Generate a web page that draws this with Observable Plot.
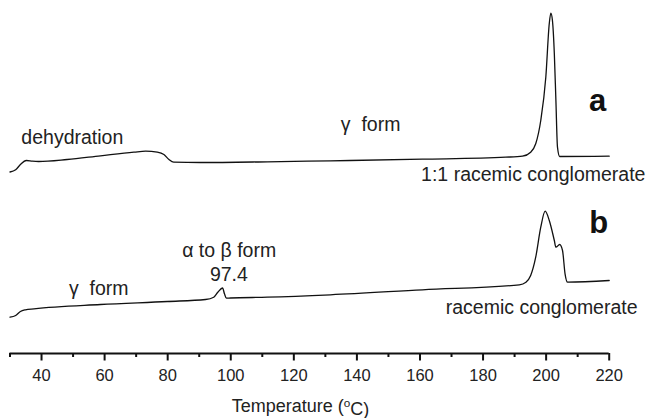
<!DOCTYPE html>
<html>
<head>
<meta charset="utf-8">
<script src="https://cdn.jsdelivr.net/npm/d3@7"></script>
<script src="https://cdn.jsdelivr.net/npm/@observablehq/plot@0.6"></script>
<style>
  html, body { margin: 0; padding: 0; background: #fff; }
  #chart { width: 652px; height: 418px; }
</style>
</head>
<body>
<div id="chart"></div>
<script>
// Curve a (1:1 racemic conglomerate) – temperature (°C) vs heat flow (a.u., offset)
const tempA = [30, 31.8, 33.3, 35.2, 37.1, 39.1, 48.1, 58.7, 69.3, 73.0, 76.7, 78.8, 80.4, 81.9, 90.4, 111.6, 131.6, 160.8, 187.2, 192.5, 195.1, 196.7, 198.3, 199.9, 201.0, 201.5, 202.0, 202.6, 203.1, 203.6, 204.3, 220];
const heatA = [181.5, 183.7, 189, 193, 192.3, 192, 194, 197.7, 201.3, 202.3, 201.3, 199, 194, 191.3, 191, 191.7, 192.7, 194.3, 196.3, 197.3, 201.3, 209.7, 233, 276.3, 330, 340.3, 333, 300, 253, 206.3, 197, 197.3];

// Curve b (racemic conglomerate)
const tempB = [30, 31.8, 33.3, 34.9, 37.6, 58.7, 79.9, 92.0, 94.6, 95.9, 97.4, 98.0, 98.6, 99.9, 111.6, 131.6, 160.8, 191.5, 193.6, 195.1, 196.7, 198.3, 199.7, 201.0, 202.6, 203.1, 204.3, 205.2, 206.0, 206.8, 220];
const heatB = [36.3, 38, 42, 43.7, 44.7, 49, 52, 54, 56.3, 61.3, 65.5, 59.7, 55.3, 55.5, 56.3, 58.7, 63.7, 68.7, 71.3, 78, 96.3, 126.3, 142.3, 133, 113, 106.3, 109, 103, 79.7, 71.3, 73];

// Axis ticks
const majorTicks = [40, 60, 80, 100, 120, 140, 160, 180, 200, 220];
const minorTicks = [30, 50, 70, 90, 110, 130, 150, 170, 190, 210];
const xLabel = "Temperature (°C)";

// Annotations
const startLabels = ["dehydration", "γ\u00a0 form", "γ\u00a0 form"];
const startTemps  = [33.6, 134.9, 48.7];
const startHeats  = [210, 223, 58.7];

const middleLabels = ["α to β form", "97.4"];
const middleTemps  = [99.5, 99.4];
const middleHeats  = [96.3, 73];

const endLabels = ["1:1 racemic conglomerate", "racemic conglomerate"];
const endTemps  = [231.5, 229];
const endHeats  = [173, 39.7];

const panelLabels = ["a", "b"];
const panelTemps  = [213.6, 213.7];
const panelHeats  = [243, 120.5];

const curves = [
  ...tempA.map((t, i) => ({series: "a", T: t, v: heatA[i]})),
  ...tempB.map((t, i) => ({series: "b", T: t, v: heatB[i]}))
];
const mk = (labels, temps, heats) => labels.map((l, i) => ({l, T: temps[i], v: heats[i]}));

const font = "'Liberation Sans', Arial, Helvetica, sans-serif";

const plot = Plot.plot({
  width: 652,
  height: 418,
  marginLeft: 9.5,
  marginRight: 43.3,
  marginTop: 0,
  marginBottom: 65,
  style: {background: "#fff", fontFamily: font, color: "#111"},
  x: {domain: [30, 220]},
  y: {domain: [0, 353], axis: null},
  marks: [
    Plot.axisX({ticks: minorTicks, tickSize: 4, tickFormat: () => "", label: null, strokeWidth: 2, stroke: "#111"}),
    Plot.axisX({ticks: majorTicks, tickSize: 7.5, tickPadding: 8, fontSize: 16.5, label: null, strokeWidth: 2, stroke: "#111", fill: "#222"}),
    Plot.ruleY([0], {stroke: "#111", strokeWidth: 2}),
    Plot.line(curves, {x: "T", y: "v", z: "series", curve: "monotone-x", stroke: "#111", strokeWidth: 1.3}),
    Plot.text(mk(startLabels, startTemps, startHeats), {x: "T", y: "v", text: "l", textAnchor: "start", lineAnchor: "bottom", fontSize: 19.5, fill: "#222"}),
    Plot.text(mk(middleLabels, middleTemps, middleHeats), {x: "T", y: "v", text: "l", textAnchor: "middle", lineAnchor: "bottom", fontSize: 19.5, fill: "#222"}),
    Plot.text(mk(endLabels, endTemps, endHeats), {x: "T", y: "v", text: "l", textAnchor: "end", lineAnchor: "bottom", fontSize: 19.5, fill: "#222"}),
    Plot.text(mk(panelLabels, panelTemps, panelHeats), {x: "T", y: "v", text: "l", textAnchor: "start", lineAnchor: "bottom", fontSize: 31, fontWeight: "bold", fill: "#111"}),
    Plot.text([{l: xLabel, T: 122.1, v: -58.5}], {x: "T", y: "v", text: "l", textAnchor: "middle", lineAnchor: "bottom", fontSize: 18, fill: "#222"})
  ]
});

document.getElementById("chart").appendChild(plot);

// Render the degree sign as a superscript "o", as in the original figure
d3.select(plot).selectAll("text").filter(function () { return this.textContent === xLabel; })
  .each(function () {
    const t = d3.select(this);
    t.text(null);
    t.append("tspan").text("Temperature (");
    t.append("tspan").attr("dy", "-0.45em").attr("font-size", "0.65em").text("o");
    t.append("tspan").attr("dy", "0.45em").text("C)");
  });
</script>
</body>
</html>
